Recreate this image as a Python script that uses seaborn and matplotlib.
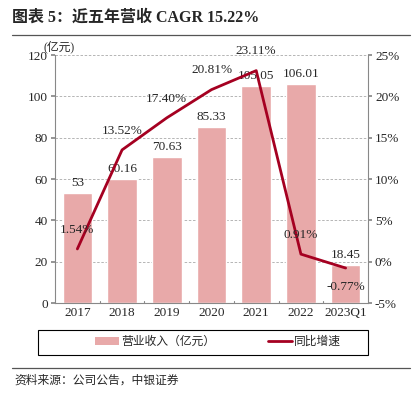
import matplotlib
matplotlib.use('Agg')
import matplotlib.pyplot as plt
import seaborn as sns
import pandas as pd
from matplotlib.lines import Line2D
from matplotlib.patches import Patch, Rectangle

years = ['2017', '2018', '2019', '2020', '2021', '2022', '2023Q1']
revenue = [53, 60.16, 70.63, 85.33, 105.05, 106.01, 18.45]
revenue_labels = ['53', '60.16', '70.63', '85.33', '105.05', '106.01', '18.45']
growth = [1.54, 13.52, 17.40, 20.81, 23.11, 0.91, -0.77]
growth_labels = ['1.54%', '13.52%', '17.40%', '20.81%', '23.11%', '0.91%', '-0.77%']

bar_color = '#E8A9A9'
line_color = '#A50021'

sns.set_theme(style='white')
plt.rcParams['font.family'] = ['Liberation Serif', 'Noto Sans CJK SC']
plt.rcParams['axes.unicode_minus'] = False

df = pd.DataFrame({'year': years, 'revenue': revenue, 'growth': growth})

fig = plt.figure(figsize=(4.2, 3.95), dpi=100)
ax = fig.add_axes([55 / 420, 1 - 303 / 395, (368 - 55) / 420, (303 - 55) / 395])

sns.barplot(data=df, x='year', y='revenue', color=bar_color, width=0.66,
            saturation=1, ax=ax, zorder=2)
ax.set_ylim(0, 120)
ax.set_yticks(range(0, 121, 20))
ax.set_xlim(-0.5, 6.5)
ax.set_xlabel('')
ax.set_ylabel('')
ax.yaxis.grid(True, linestyle=(0, (3, 2)), color='#aaaaaa', linewidth=0.6)
ax.set_axisbelow(True)
for s in ['top', 'right']:
    ax.spines[s].set_visible(False)
for s in ['left', 'bottom']:
    ax.spines[s].set_color('#888888')
    ax.spines[s].set_linewidth(0.8)
ax.tick_params(axis='y', labelsize=9.5, length=3, color='#888888', left=True, pad=2)
ax.tick_params(axis='x', labelsize=9.5, length=0, pad=3)
for b in [0.5, 1.5, 2.5, 3.5, 4.5, 5.5]:
    ax.plot([b, b], [0, 1.2], color='#888888', lw=0.8, clip_on=False, zorder=3)
ax.text(-0.75, 121, '(亿元)', fontsize=8.5, ha='left', va='bottom')

for i, (v, t) in enumerate(zip(revenue, revenue_labels)):
    ax.text(i, v + 2, t, ha='center', va='bottom', fontsize=9.5, zorder=5)

ax2 = ax.twinx()
sns.lineplot(data=df, x='year', y='growth', color=line_color, lw=2, ax=ax2,
             sort=False, zorder=4)
ax2.set_ylim(-5, 25)
ax2.set_yticks(range(-5, 26, 5))
ax2.set_yticklabels([f'{v}%' for v in range(-5, 26, 5)])
ax2.set_ylabel('')
ax2.set_xlabel('')
for s in ['top', 'left', 'bottom']:
    ax2.spines[s].set_visible(False)
ax2.spines['right'].set_color('#888888')
ax2.spines['right'].set_linewidth(0.8)
ax2.tick_params(axis='y', labelsize=9.5, length=3, color='#888888', right=True, pad=2)

offsets = [1.6, 1.6, 1.6, 1.6, 1.6, 1.6, -1.6]
for i, (v, t, o) in enumerate(zip(growth, growth_labels, offsets)):
    ax2.text(i, v + o, t, ha='center', va='bottom' if o > 0 else 'top', fontsize=9.5, zorder=6)

# legend frame drawn separately so the entries can sit centred in it
fig.add_artist(Rectangle((38 / 420, 1 - 355 / 395), (368 - 38) / 420, 25 / 395,
                         transform=fig.transFigure, fill=False,
                         edgecolor='black', lw=0.8))
handles = [Patch(facecolor=bar_color, edgecolor='none'),
           Line2D([0], [0], color=line_color, lw=2)]
fig.legend(handles, ['营业收入（亿元）', '同比增速'], loc='center',
           bbox_to_anchor=(218 / 420, 1 - 342 / 395), ncol=2,
           frameon=False, fontsize=8.5, columnspacing=4.5,
           handlelength=2.0, handletextpad=0.2)

fig.text(12 / 420, 1 - 18 / 395, '图表 5：近五年营收 CAGR 15.22%', fontsize=11.5,
         fontweight='bold', ha='left', va='center')
fig.add_artist(Line2D([12 / 420, 410 / 420], [1 - 35 / 395, 1 - 35 / 395],
                      color='#555555', lw=0.9))
fig.add_artist(Line2D([12 / 420, 410 / 420], [1 - 368 / 395, 1 - 368 / 395],
                      color='#555555', lw=0.9))
fig.text(14 / 420, 1 - 381 / 395, '资料来源：公司公告，中银证券', fontsize=8.5,
         style='italic', ha='left', va='center')

fig.savefig('out.png', dpi=100)
